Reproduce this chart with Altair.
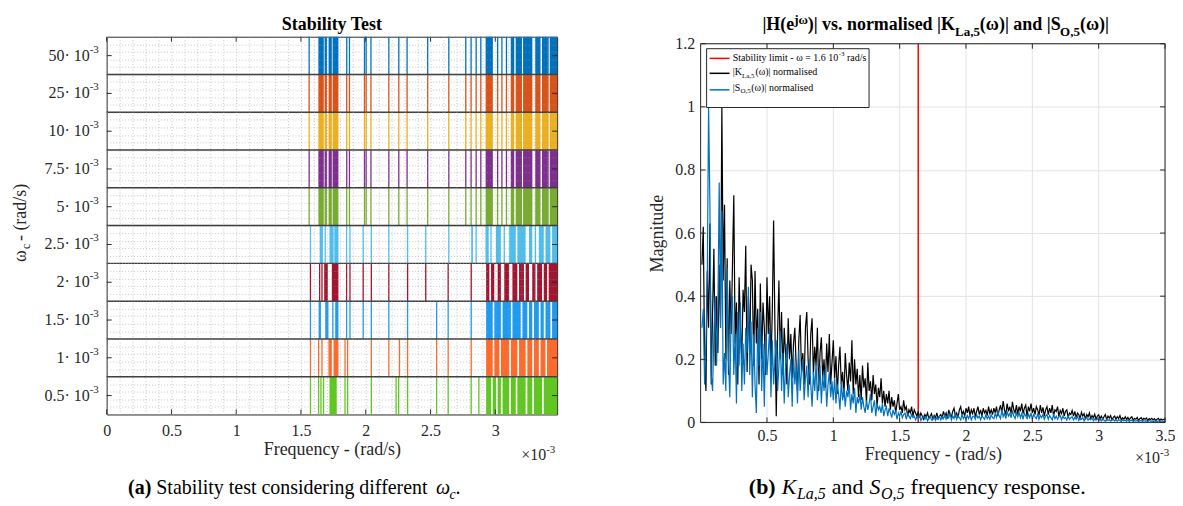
import altair as alt
import pandas as pd
import numpy as np

SERIF = "Liberation Serif"
INK = "#262626"

# ---------------- panel (a) : stability test ----------------
band_labels = ["0.5", "1", "1.5", "2", "2.5", "5", "7.5", "10", "25", "50"]   # omega_c x10^-3, bottom -> top
band_colors = ["#5FC81E", "#FF6A2A", "#1E9BF0", "#A2142F", "#4DBEEE",
               "#77AC30", "#7E2F8E", "#EDB120", "#D95319", "#0072BD"]

# unstable frequencies (x10^-3 rad/s): isolated lines and contiguous blocks
high_lines = [1.563, 1.853, 1.874, 1.990, 2.003, 2.040, 2.178, 2.255, 2.319, 2.478,
              2.641, 2.772, 2.813, 2.852, 2.888, 3.018, 3.051, 3.086]
high_blocks = [(1.634, 1.676), (1.682, 1.700), (1.713, 1.738), (1.744, 1.789), (2.925, 2.981),
               (3.119, 3.146), (3.157, 3.206), (3.214, 3.286), (3.308, 3.349), (3.360, 3.412),
               (3.420, 3.477)]
lines_25 = [1.573, 1.687, 1.852, 1.878, 1.980, 2.043, 2.178, 2.323, 2.463, 2.641, 2.852,
            2.967, 3.069, 3.310]
blocks_25 = [(1.644, 1.669), (1.720, 1.752), (1.757, 1.789), (2.814, 2.827), (2.924, 2.949),
             (3.005, 3.043), (3.107, 3.158), (3.170, 3.234), (3.260, 3.285), (3.336, 3.374),
             (3.387, 3.425), (3.438, 3.477)]
lines_2 = [1.573, 1.644, 1.662, 1.852, 1.878, 1.980, 2.043, 2.178, 2.323, 2.463, 2.636, 2.814]
blocks_2 = [(1.679, 1.707), (1.738, 1.789), (2.929, 2.954), (2.967, 2.992), (3.018, 3.043),
            (3.069, 3.107), (3.132, 3.170), (3.183, 3.221), (3.234, 3.260), (3.285, 3.310),
            (3.323, 3.361), (3.374, 3.399), (3.412, 3.477)]
lines_15 = [1.573, 1.746, 1.852, 1.878, 1.980, 2.043, 2.178, 2.323, 2.547, 2.636, 2.814]
blocks_15 = [(1.636, 1.654), (1.687, 1.712), (1.764, 1.789), (2.929, 2.980), (2.992, 3.043),
             (3.056, 3.120), (3.132, 3.196), (3.209, 3.247), (3.260, 3.285), (3.298, 3.336),
             (3.349, 3.374), (3.387, 3.425), (3.438, 3.477)]
lines_1 = [1.573, 1.636, 1.662, 1.840, 1.860, 2.043, 2.178, 2.260, 2.323, 2.547, 2.636, 2.814]
blocks_1 = [(1.712, 1.738), (1.751, 1.789), (2.929, 2.980), (2.992, 3.031), (3.043, 3.107),
            (3.120, 3.170), (3.183, 3.234), (3.247, 3.285), (3.298, 3.336), (3.349, 3.387),
            (3.399, 3.477)]
lines_05 = [1.573, 1.636, 1.654, 1.674, 1.840, 1.860, 2.043, 2.234, 2.254, 2.323, 2.547,
            2.636, 2.814, 2.873]
blocks_05 = [(1.720, 1.776), (2.929, 2.967), (2.980, 3.005), (3.018, 3.043), (3.056, 3.107),
             (3.120, 3.158), (3.170, 3.234), (3.247, 3.285), (3.298, 3.361), (3.374, 3.477)]

band_line_sets = [lines_05, lines_1, lines_15, lines_2, lines_25,
                  high_lines, high_lines, high_lines, high_lines, high_lines]
band_block_sets = [blocks_05, blocks_1, blocks_15, blocks_2, blocks_25,
                   high_blocks, high_blocks, high_blocks, high_blocks, high_blocks]
xticks_a = [0, 0.5, 1.0, 1.5, 2.0, 2.5, 3.0]

# ---------------- panel (b) : normalised spectra ----------------
resp_freq = np.round(np.arange(1, 351) * 0.01, 2)       # frequency bins, x10^-3 rad/s
k_norm = [
    0.50, 0.62, 0.20, 0.10, 0.48, 0.30, 0.63, 0.12, 0.35, 0.55, 0.18, 0.40, 0.22, 0.50, 0.30, 1.00, 0.45, 0.69, 0.20, 0.52,
    0.15, 0.45, 0.28, 0.50, 0.72, 0.25, 0.38, 0.12, 0.46, 0.30, 0.20, 0.42, 0.35, 0.56, 0.16, 0.40, 0.22, 0.50, 0.45, 0.18,
    0.48, 0.25, 0.36, 0.12, 0.44, 0.20, 0.38, 0.30, 0.15, 0.46, 0.28, 0.40, 0.18, 0.35, 0.64, 0.30, 0.02, 0.28, 0.45, 0.20,
    0.35, 0.15, 0.30, 0.22, 0.12, 0.33, 0.20, 0.28, 0.14, 0.25, 0.30, 0.18, 0.10, 0.26, 0.34, 0.16, 0.22, 0.12, 0.30, 0.35,
    0.20, 0.12, 0.28, 0.33, 0.15, 0.24, 0.18, 0.30, 0.10, 0.22, 0.27, 0.14, 0.20, 0.11, 0.25, 0.16, 0.28, 0.12, 0.19, 0.26,
    0.14, 0.21, 0.09, 0.18, 0.24, 0.12, 0.16, 0.08, 0.22, 0.15, 0.10, 0.19, 0.13, 0.26, 0.09, 0.20, 0.12, 0.17, 0.08, 0.15,
    0.07, 0.18, 0.11, 0.14, 0.06, 0.19, 0.10, 0.13, 0.07, 0.15, 0.09, 0.12, 0.05, 0.11, 0.08, 0.14, 0.06, 0.10, 0.05, 0.09,
    0.06, 0.10, 0.04, 0.08, 0.05, 0.07, 0.03, 0.06, 0.09, 0.04, 0.05, 0.03, 0.07, 0.04, 0.05, 0.02, 0.04, 0.03, 0.05, 0.02,
    0.04, 0.03, 0.02, 0.035, 0.015, 0.03, 0.02, 0.01, 0.025, 0.018, 0.03, 0.012, 0.02, 0.028, 0.01, 0.022, 0.015, 0.03, 0.012, 0.02,
    0.025, 0.015, 0.035, 0.02, 0.03, 0.012, 0.04, 0.025, 0.018, 0.035, 0.045, 0.02, 0.03, 0.015, 0.04, 0.05, 0.025, 0.035, 0.02, 0.045,
    0.03, 0.05, 0.02, 0.04, 0.028, 0.045, 0.018, 0.035, 0.05, 0.025, 0.04, 0.02, 0.045, 0.03, 0.038, 0.022, 0.05, 0.028, 0.04, 0.025,
    0.045, 0.03, 0.05, 0.02, 0.04, 0.055, 0.03, 0.068, 0.04, 0.025, 0.06, 0.035, 0.05, 0.028, 0.065, 0.04, 0.03, 0.055, 0.025, 0.05,
    0.035, 0.06, 0.028, 0.045, 0.055, 0.02, 0.05, 0.035, 0.06, 0.03, 0.045, 0.025, 0.05, 0.04, 0.022, 0.055, 0.03, 0.048, 0.02, 0.04,
    0.05, 0.025, 0.045, 0.03, 0.055, 0.02, 0.04, 0.035, 0.05, 0.018, 0.038, 0.028, 0.045, 0.02, 0.035, 0.04, 0.015, 0.03, 0.025, 0.038,
    0.02, 0.035, 0.015, 0.03, 0.025, 0.012, 0.032, 0.02, 0.028, 0.01, 0.025, 0.018, 0.03, 0.012, 0.022, 0.015, 0.026, 0.01, 0.02, 0.024,
    0.012, 0.02, 0.01, 0.018, 0.025, 0.009, 0.02, 0.014, 0.022, 0.008, 0.016, 0.02, 0.01, 0.018, 0.012, 0.022, 0.008, 0.015, 0.01, 0.018,
    0.01, 0.016, 0.008, 0.014, 0.018, 0.007, 0.013, 0.01, 0.016, 0.006, 0.012, 0.015, 0.008, 0.013, 0.01, 0.014, 0.006, 0.012, 0.009, 0.013,
    0.008, 0.012, 0.006, 0.01, 0.013, 0.007, 0.011, 0.008, 0.01, 0.009,
]
s_norm = [
    0.30, 0.36, 0.12, 0.25, 0.45, 1.00, 0.69, 0.15, 0.10, 0.28, 0.40, 0.18, 0.35, 0.76, 0.30, 0.67, 0.12, 0.22, 0.10, 0.49,
    0.20, 0.08, 0.35, 0.40, 0.15, 0.28, 0.06, 0.35, 0.18, 0.38, 0.10, 0.25, 0.12, 0.30, 0.22, 0.43, 0.15, 0.32, 0.08, 0.28,
    0.12, 0.03, 0.30, 0.18, 0.35, 0.10, 0.25, 0.05, 0.28, 0.15, 0.22, 0.30, 0.08, 0.26, 0.12, 0.20, 0.26, 0.10, 0.18, 0.29,
    0.10, 0.22, 0.06, 0.18, 0.25, 0.08, 0.15, 0.20, 0.05, 0.22, 0.12, 0.18, 0.06, 0.23, 0.10, 0.16, 0.20, 0.07, 0.14, 0.18,
    0.08, 0.20, 0.12, 0.05, 0.16, 0.10, 0.19, 0.07, 0.14, 0.18, 0.06, 0.15, 0.10, 0.17, 0.05, 0.12, 0.16, 0.08, 0.13, 0.07,
    0.14, 0.06, 0.12, 0.09, 0.04, 0.13, 0.07, 0.11, 0.05, 0.10, 0.08, 0.12, 0.04, 0.09, 0.06, 0.11, 0.03, 0.08, 0.06, 0.09,
    0.04, 0.08, 0.05, 0.03, 0.07, 0.04, 0.06, 0.09, 0.03, 0.05, 0.07, 0.02, 0.06, 0.04, 0.05, 0.03, 0.06, 0.02, 0.04, 0.05,
    0.02, 0.045, 0.03, 0.015, 0.04, 0.025, 0.035, 0.01, 0.03, 0.02, 0.035, 0.015, 0.025, 0.03, 0.01, 0.028, 0.02, 0.012, 0.025, 0.015,
    0.02, 0.008, 0.018, 0.012, 0.022, 0.006, 0.015, 0.02, 0.01, 0.018, 0.005, 0.015, 0.02, 0.008, 0.012, 0.018, 0.006, 0.015, 0.01, 0.02,
    0.008, 0.018, 0.012, 0.025, 0.01, 0.02, 0.015, 0.028, 0.008, 0.02, 0.012, 0.03, 0.01, 0.022, 0.015, 0.008, 0.025, 0.012, 0.02, 0.01,
    0.022, 0.012, 0.025, 0.008, 0.018, 0.02, 0.01, 0.025, 0.014, 0.02, 0.008, 0.022, 0.015, 0.01, 0.025, 0.012, 0.02, 0.01, 0.024, 0.015,
    0.012, 0.028, 0.015, 0.035, 0.02, 0.012, 0.04, 0.018, 0.03, 0.012, 0.035, 0.02, 0.028, 0.015, 0.038, 0.02, 0.012, 0.03, 0.018, 0.032,
    0.015, 0.028, 0.01, 0.03, 0.02, 0.012, 0.026, 0.015, 0.03, 0.01, 0.025, 0.018, 0.012, 0.028, 0.01, 0.022, 0.015, 0.026, 0.01, 0.02,
    0.025, 0.01, 0.022, 0.015, 0.008, 0.024, 0.012, 0.02, 0.01, 0.018, 0.022, 0.008, 0.02, 0.012, 0.016, 0.008, 0.02, 0.01, 0.015, 0.018,
    0.008, 0.016, 0.01, 0.02, 0.006, 0.014, 0.01, 0.015, 0.005, 0.012, 0.016, 0.007, 0.012, 0.009, 0.014, 0.005, 0.011, 0.008, 0.012, 0.006,
    0.01, 0.005, 0.012, 0.007, 0.004, 0.01, 0.006, 0.009, 0.004, 0.008, 0.01, 0.005, 0.008, 0.004, 0.009, 0.006, 0.003, 0.008, 0.005, 0.007,
    0.004, 0.008, 0.003, 0.006, 0.007, 0.003, 0.006, 0.004, 0.007, 0.003, 0.005, 0.006, 0.003, 0.006, 0.004, 0.005, 0.003, 0.006, 0.004, 0.005,
    0.003, 0.005, 0.004, 0.003, 0.005, 0.003, 0.004, 0.005, 0.003, 0.004,
]
stability_limit = [1.64]
xticks_b = [0.5, 1.0, 1.5, 2.0, 2.5, 3.0, 3.5]
yticks_b = [0, 0.2, 0.4, 0.6, 0.8, 1.0, 1.2]

# ---------------- texts ----------------
title_a = "Stability Test"
ytitle_a = ["ω", "c", "- (rad/s)"]
xtitle = "Frequency - (rad/s)"
ytitle_b = "Magnitude"
exp_main, exp_sup = "×10", "-3"
ylabel_tail = "· 10"
caption_a = ["(a)", "Stability test considering different", "ω", "c", "."]
title_b = ["|H(e", "jω", ")| vs. normalised |K", "La,5", "(ω)| and |S", "O,5", "(ω)|"]
legend_1 = ["Stability limit - ω = 1.6 10", "-3", "rad/s"]
legend_2 = ["|K", "La,5", "(ω)| normalised"]
legend_3 = ["|S", "O,5", "(ω)| normalised"]
caption_b = ["(b)", "K", "La,5", "and", "S", "O,5", "frequency response."]


def txt(text, x, y, size, weight="normal", style="normal", align="left",
        baseline="alphabetic", angle=0, color="#000000"):
    return alt.Chart(pd.DataFrame({"t": [text]})).mark_text(
        align=align, baseline=baseline, font=SERIF, fontSize=size, fontWeight=weight,
        fontStyle=style, angle=angle, color=color
    ).encode(x=alt.value(x), y=alt.value(y), text="t:N")


def anchor(x1, x2, y1, y2):
    return alt.Chart(pd.DataFrame({"a": [0]})).mark_rect(opacity=0).encode(
        x=alt.value(x1), x2=alt.value(x2), y=alt.value(y1), y2=alt.value(y2))


TICK_PX = 5

# ---------------- build panel (a) ----------------
WA, HA = 452, 379
XMAX_A = 3.477
block_rows, line_rows = [], []
for i, lab in enumerate(band_labels):
    for (a, b) in band_block_sets[i]:
        block_rows.append({"band": lab, "lo": i, "hi": i + 1, "f0": a, "f1": b})
    for f in band_line_sets[i]:
        line_rows.append({"band": lab, "lo": i, "hi": i + 1, "f": f})
blocks_df = pd.DataFrame(block_rows)
lines_df = pd.DataFrame(line_rows)
ylab_df = pd.DataFrame({"lab": band_labels, "mid": [i + 0.5 for i in range(len(band_labels))],
                        "main": [l + ylabel_tail for l in band_labels]})

xs_a = alt.Scale(domain=[0, XMAX_A], nice=False, zero=False)
ys_a = alt.Scale(domain=[0, 10], nice=False, zero=False)
xaxis_a = alt.Axis(values=[round(0.1 * i, 1) for i in range(35)],
                   labelExpr="abs(datum.value*2 - round(datum.value*2)) < 0.001 ? format(datum.value, '.1~f') : ''",
                   grid=True, gridDash=[1, 2], gridColor="#9a9a9a", gridOpacity=0.55,
                   ticks=False, domain=False, labelFont=SERIF, labelFontSize=16, labelColor=INK,
                   labelPadding=8, labelOverlap=False, labelFlush=False,
                   title=xtitle, titleFont=SERIF, titleFontSize=18, titleFontWeight="normal",
                   titleColor=INK, titlePadding=2, zindex=1)
yaxis_a = alt.Axis(values=[round(0.2 * i, 1) for i in range(51)], labels=False, ticks=False,
                   domain=False, grid=True, gridDash=[1, 2], gridColor="#9a9a9a", gridOpacity=0.55,
                   title=None, zindex=1)
color_a = alt.Color("band:N", scale=alt.Scale(domain=band_labels, range=band_colors), legend=None)
XA = alt.X("f:Q", scale=xs_a, axis=xaxis_a)

blocks = alt.Chart(blocks_df).mark_rect().encode(
    x=alt.X("f0:Q", scale=xs_a, axis=xaxis_a), x2="f1:Q",
    y=alt.Y("lo:Q", scale=ys_a, axis=yaxis_a), y2="hi:Q", color=color_a)
lines = alt.Chart(lines_df).mark_rule(strokeWidth=1.3).encode(
    x=XA, y=alt.Y("lo:Q", scale=ys_a, axis=yaxis_a), y2="hi:Q", color=color_a)
seps = alt.Chart(alt.sequence(1, 10, as_="b")).mark_rule(color="#3a3a3a", strokeWidth=1.5).encode(
    y=alt.Y("b:Q", scale=ys_a, axis=yaxis_a))
ylab_main = alt.Chart(ylab_df).mark_text(align="right", baseline="middle", font=SERIF,
                                         fontSize=16, color=INK).encode(
    x=alt.value(-17), y=alt.Y("mid:Q", scale=ys_a, axis=yaxis_a), text="main:N")
ylab_sup = alt.Chart(ylab_df).mark_text(align="left", baseline="middle", font=SERIF,
                                        fontSize=11, color=INK, dy=-6).encode(
    x=alt.value(-17), y=alt.Y("mid:Q", scale=ys_a, axis=yaxis_a), text=alt.value(exp_sup))

# inside ticks (MATLAB box style)
ty = 10 * TICK_PX / HA
tx = XMAX_A * TICK_PX / WA
xt_df = pd.DataFrame({"f": xticks_a})
yt_df = pd.DataFrame({"mid": [i + 0.5 for i in range(10)]})
ticks_a = [
    alt.Chart(xt_df).mark_rule(color=INK).encode(
        x=XA, y=alt.Y("y0:Q", scale=ys_a, axis=yaxis_a), y2="y1:Q"
    ).transform_calculate(y0="0", y1=str(ty)),
    alt.Chart(xt_df).mark_rule(color=INK).encode(
        x=XA, y=alt.Y("y0:Q", scale=ys_a, axis=yaxis_a), y2="y1:Q"
    ).transform_calculate(y0=str(10 - ty), y1="10"),
    alt.Chart(yt_df).mark_rule(color=INK).encode(
        x=alt.X("x0:Q", scale=xs_a, axis=xaxis_a), x2="x1:Q", y=alt.Y("mid:Q", scale=ys_a, axis=yaxis_a)
    ).transform_calculate(x0="0", x1=str(tx)),
    alt.Chart(yt_df).mark_rule(color=INK).encode(
        x=alt.X("x0:Q", scale=xs_a, axis=xaxis_a), x2="x1:Q", y=alt.Y("mid:Q", scale=ys_a, axis=yaxis_a)
    ).transform_calculate(x0=str(XMAX_A - tx), x1=str(XMAX_A)),
]

left = alt.layer(
    blocks, lines, seps, *ticks_a, ylab_main, ylab_sup,
    txt(title_a, WA / 2, -7, 18, weight="bold", align="center"),
    txt(ytitle_a[0], -86, 226, 18, angle=270, baseline="middle", color=INK),
    txt(ytitle_a[1], -81, 213, 12, angle=270, baseline="middle", color=INK),
    txt(ytitle_a[2], -86, 205, 18, angle=270, baseline="middle", color=INK),
    txt(exp_main, 441, HA + 46, 16, align="right", color=INK),
    txt(exp_sup, 441, HA + 39, 11, color=INK),
    txt(caption_a[0], 21.5, HA + 80, 20, weight="bold"),
    txt(caption_a[1], 49.8, HA + 80, 20),
    txt(caption_a[2], 330.5, HA + 80, 20, style="italic"),
    txt(caption_a[3], 344, HA + 85, 14, style="italic"),
    txt(caption_a[4], 350, HA + 80, 20),
    anchor(-98, 470, -27, -26),
).properties(width=WA, height=HA)

# ---------------- build panel (b) ----------------
# plot box is 466 x 380, sitting 7 px lower than panel (a)'s box
WB, OFF, HB = 466, 7, 380
GH = OFF + HB
resp_df = pd.DataFrame({"f": resp_freq, "K": k_norm, "S": s_norm})
xs_b = alt.Scale(domain=[0, 3.5], nice=False, zero=False)
ys_b = alt.Scale(domain=[0, 1.2], nice=False, zero=False, range=[GH, OFF])
xaxis_b = alt.Axis(values=xticks_b, format=".1~f",
                   grid=False, ticks=False, domain=False,
                   labelFont=SERIF, labelFontSize=16, labelColor=INK, labelPadding=5,
                   labelFlush=False, labelOverlap=False,
                   title=xtitle, titleFont=SERIF, titleFontSize=18, titleFontWeight="normal",
                   titleColor=INK, titlePadding=2)
yaxis_b = alt.Axis(values=yticks_b, format=".1~f",
                   grid=True, gridColor="#e3e3e3", ticks=False, domain=False,
                   labelFont=SERIF, labelFontSize=16, labelColor=INK, labelPadding=6,
                   title=ytitle_b, titleFont=SERIF, titleFontSize=18, titleFontWeight="normal",
                   titleColor=INK, titlePadding=8, titleY=OFF + HB / 2)
XB = alt.X("f:Q", scale=xs_b, axis=xaxis_b)

xgrid_b = alt.Chart(pd.DataFrame({"f": xticks_b})).mark_rule(color="#e3e3e3").encode(
    x=XB, y=alt.Y("y0:Q", scale=ys_b, axis=yaxis_b), y2="y1:Q"
).transform_calculate(y0="0", y1="1.2")
red = alt.Chart(pd.DataFrame({"f": stability_limit})).mark_rule(color="#FF0000", strokeWidth=1.5).encode(
    x=XB, y=alt.Y("y0:Q", scale=ys_b, axis=yaxis_b), y2="y1:Q"
).transform_calculate(y0="0", y1="1.2")
k_line = alt.Chart(resp_df).mark_line(color="#000000", strokeWidth=1.2).encode(
    x=XB, y=alt.Y("K:Q", scale=ys_b, axis=yaxis_b))
s_line = alt.Chart(resp_df).mark_line(color="#0072BD", strokeWidth=1.2).encode(
    x=XB, y=alt.Y("S:Q", scale=ys_b, axis=yaxis_b))
frame_b = alt.Chart(pd.DataFrame({"x0": [0], "x1": [3.5], "y0": [0], "y1": [1.2]})).mark_rect(
    filled=False, stroke=INK, strokeWidth=1).encode(
    x=alt.X("x0:Q", scale=xs_b, axis=xaxis_b), x2="x1:Q",
    y=alt.Y("y0:Q", scale=ys_b, axis=yaxis_b), y2="y1:Q")

tyb = 1.2 * TICK_PX / HB
txb = 3.5 * TICK_PX / WB
xtb_df = pd.DataFrame({"f": xticks_b})
ytb_df = pd.DataFrame({"v": yticks_b})
ticks_b = [
    alt.Chart(xtb_df).mark_rule(color=INK).encode(
        x=XB, y=alt.Y("y0:Q", scale=ys_b, axis=yaxis_b), y2="y1:Q"
    ).transform_calculate(y0="0", y1=str(tyb)),
    alt.Chart(xtb_df).mark_rule(color=INK).encode(
        x=XB, y=alt.Y("y0:Q", scale=ys_b, axis=yaxis_b), y2="y1:Q"
    ).transform_calculate(y0=str(1.2 - tyb), y1="1.2"),
    alt.Chart(ytb_df).mark_rule(color=INK).encode(
        x=alt.X("x0:Q", scale=xs_b, axis=xaxis_b), x2="x1:Q", y=alt.Y("v:Q", scale=ys_b, axis=yaxis_b)
    ).transform_calculate(x0="0", x1=str(txb)),
    alt.Chart(ytb_df).mark_rule(color=INK).encode(
        x=alt.X("x0:Q", scale=xs_b, axis=xaxis_b), x2="x1:Q", y=alt.Y("v:Q", scale=ys_b, axis=yaxis_b)
    ).transform_calculate(x0=str(3.5 - txb), x1="3.5"),
]

legend_box = alt.Chart(pd.DataFrame({"a": [0]})).mark_rect(fill="white", stroke=INK, strokeWidth=1).encode(
    x=alt.value(6), x2=alt.value(169), y=alt.value(OFF + 5), y2=alt.value(OFF + 64))


def leg_line(color, y):
    return alt.Chart(pd.DataFrame({"a": [0]})).mark_rule(color=color, strokeWidth=1.5).encode(
        x=alt.value(9), x2=alt.value(29), y=alt.value(OFF + y))


CB = 22      # caption (b) font size
CBS = 16     # caption (b) subscript size
right = alt.layer(
    xgrid_b, red, k_line, s_line, frame_b, *ticks_b,
    legend_box,
    leg_line("#FF0000", 14.7), leg_line("#000000", 29.7), leg_line("#0072BD", 46.3),
    txt(legend_1[0], 32.3, OFF + 14.7, 10, baseline="middle"),
    txt(legend_1[1], 138.5, OFF + 10.5, 7, baseline="middle"),
    txt(legend_1[2], 146.8, OFF + 14.7, 10, baseline="middle"),
    txt(legend_2[0], 32.3, OFF + 28.7, 10, baseline="middle"),
    txt(legend_2[1], 41.5, OFF + 32, 7, baseline="middle"),
    txt(legend_2[2], 55, OFF + 28.7, 10, baseline="middle"),
    txt(legend_3[0], 32.3, OFF + 44.3, 10, baseline="middle"),
    txt(legend_3[1], 40.1, OFF + 47.6, 7, baseline="middle"),
    txt(legend_3[2], 50.8, OFF + 44.3, 10, baseline="middle"),
    txt(title_b[0], 62, OFF - 14, 18, weight="bold"),
    txt(title_b[1], 94, OFF - 20, 13, weight="bold"),
    txt(title_b[2], 107.4, OFF - 14, 18, weight="bold"),
    txt(title_b[3], 255.3, OFF - 8, 13, weight="bold"),
    txt(title_b[4], 280.2, OFF - 14, 18, weight="bold"),
    txt(title_b[5], 360.7, OFF - 8, 13, weight="bold"),
    txt(title_b[6], 380.6, OFF - 14, 18, weight="bold"),
    txt(exp_main, 461, GH + 41, 16, align="right", color=INK),
    txt(exp_sup, 461, GH + 34, 11, color=INK),
    txt(caption_b[0], 48.4, HA + 80, CB, weight="bold"),
    txt(caption_b[1], 81.3, HA + 80, CB, style="italic"),
    txt(caption_b[2], 96.7, HA + 85, CBS, style="italic"),
    txt(caption_b[3], 131.6, HA + 80, CB),
    txt(caption_b[4], 169.4, HA + 80, CB, style="italic"),
    txt(caption_b[5], 181.1, HA + 85, CBS, style="italic"),
    txt(caption_b[6], 210.7, HA + 80, CB),
    anchor(-61, -60, -27, -26),
).properties(width=WB, height=GH, view=alt.ViewBackground(strokeOpacity=0))

chart = alt.hconcat(left, right, spacing=64).properties(padding=0).configure_view(
    stroke=INK, strokeWidth=1)

chart.save("out.html", embed_options={"renderer": "svg", "actions": False})
